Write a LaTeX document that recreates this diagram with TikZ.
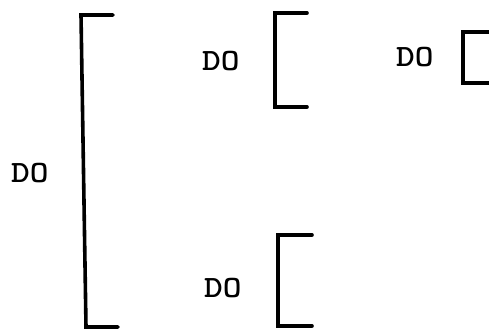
\documentclass[tikz,border=0pt]{standalone}
\usepackage{tikz}
\usetikzlibrary{positioning}

\newcommand{\wideDO}{\scalebox{1.15}[1]{DO}}

\begin{document}
\begin{tikzpicture}[
  x=1pt, y=-1pt,
  font=\ttfamily\bfseries\fontsize{31}{31}\selectfont,
  lbl/.style={inner sep=0pt, anchor=west},
  brk/.style={line width=3.6pt, line cap=round, line join=miter}
]
\useasboundingbox (0,0) rectangle (489,329);
\node[lbl] (do1) at (11,173) {\wideDO};
\node[lbl] (do2) at (202,61) {\wideDO};
\node[lbl] (do3) at (396,57) {\wideDO};
\node[lbl] (do4) at (204,288) {\wideDO};
% brackets
\draw[brk] (113,15) -- (81,15) -- (86,327) -- (118,327);
\draw[brk] (307,13) -- (275,13) -- (275,107) -- (307,107);
\draw[brk] (495,32) -- (463,32) -- (463,83) -- (495,83);
\draw[brk] (312,235) -- (278,235) -- (278,326) -- (312,326);
\end{tikzpicture}
\end{document}
